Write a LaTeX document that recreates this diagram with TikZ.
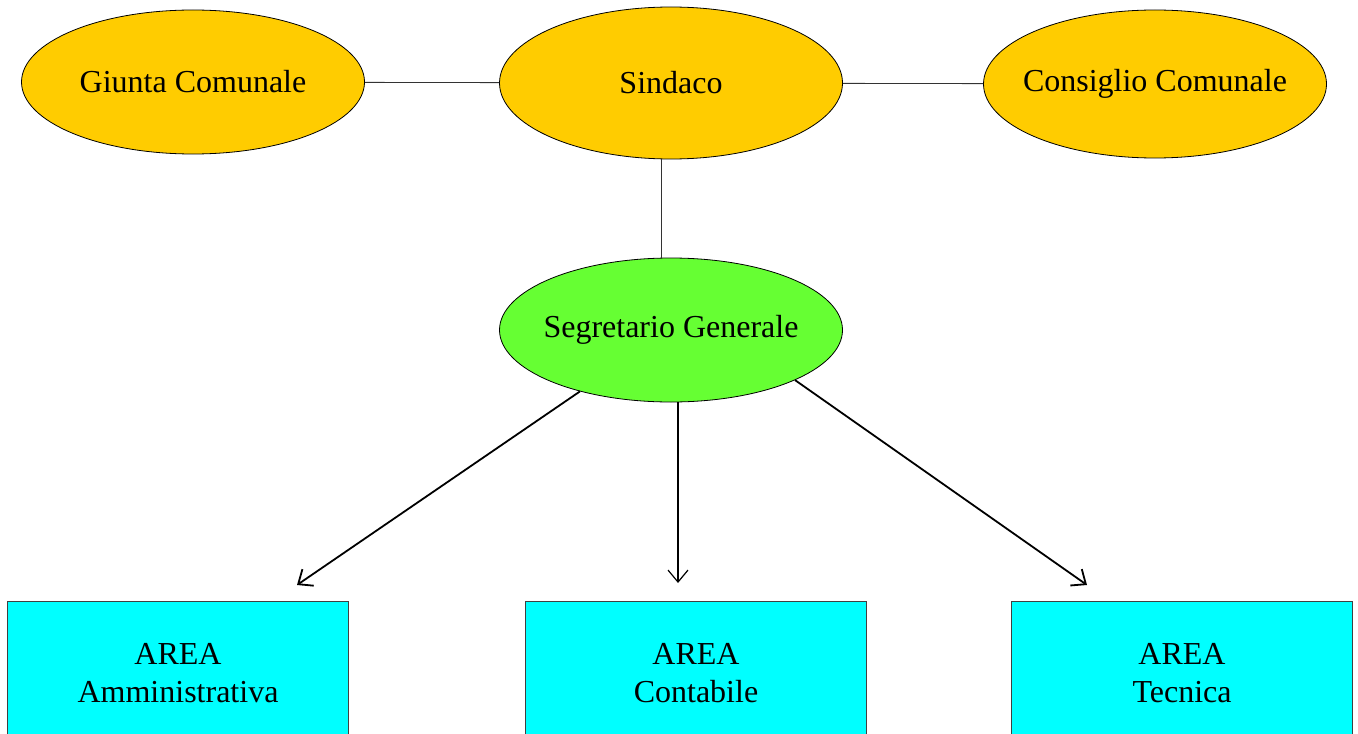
\documentclass[tikz,border=0pt]{standalone}
\usepackage{fontspec}
\setmainfont{Liberation Serif}
\usetikzlibrary{shapes.geometric,arrows.meta}
\definecolor{oro}{HTML}{FFCC00}
\definecolor{verde}{HTML}{66FF33}
\definecolor{ciano}{HTML}{00FFFF}
\begin{document}
\begin{tikzpicture}[x=0.5pt,y=-0.5pt,
  organo/.style={draw, ellipse, inner xsep=-12pt, inner ysep=0pt, minimum width=171.5pt, minimum height=72pt, font=\fontsize{16}{19}\selectfont},
  area/.style={draw=black!75, fill=ciano, inner sep=0pt, minimum width=170.5pt, minimum height=72pt, align=center, font=\fontsize{16}{19}\selectfont},
  freccia/.style={-{Straight Barb[length=6pt,width=10pt]}, line width=0.9pt}]
\useasboundingbox (0,0) rectangle (1358,733);
\node[organo, fill=oro] (giunta) at (193,82) {Giunta Comunale};
\node[organo, fill=oro, minimum height=76pt] (sindaco) at (671,83) {Sindaco};
\node[organo, fill=oro, minimum height=74pt] (consiglio) at (1155,84) {Consiglio Comunale};
\node[organo, fill=verde] (segretario) at (671,330) {Segretario Generale};
\node[area] (amm) at (178,673) {AREA\\Amministrativa};
\node[area] (cont) at (696,673) {AREA\\Contabile};
\node[area] (tec) at (1182,673) {AREA\\Tecnica};
\coordinate (puntaA) at (297,585);
\coordinate (puntaB) at (678,583);
\coordinate (puntaC) at (1087,585);
\draw[black!80] (giunta) -- (sindaco);
\draw[black!80] (sindaco) -- (consiglio);
\draw[black!80] ([xshift=-5pt]sindaco.south) -- ([xshift=-5pt]segretario.north);
\draw[freccia] (segretario.214) -- (puntaA);
\draw[freccia, line width=0.6pt] (segretario.south -| puntaB) -- (puntaB);
\draw[freccia] (segretario.338) -- (puntaC);
\end{tikzpicture}
\end{document}
